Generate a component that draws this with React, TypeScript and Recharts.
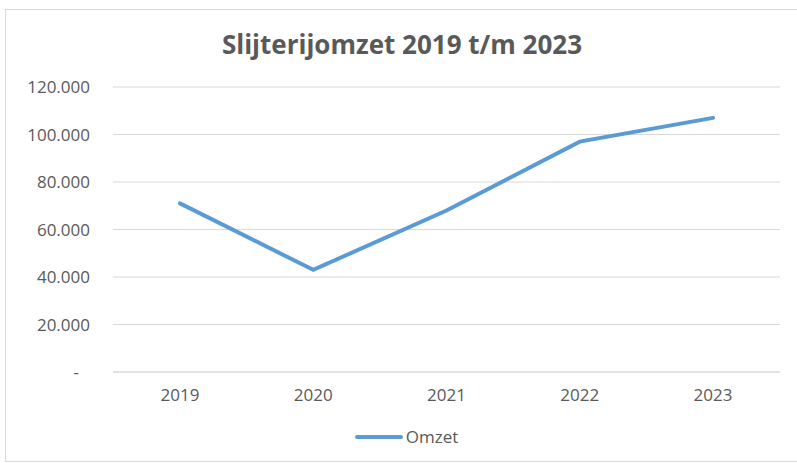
import { LineChart, Line, XAxis, YAxis, CartesianGrid } from "recharts";

const years = ["2019", "2020", "2021", "2022", "2023"];
const omzet = [71000, 43000, 68000, 97000, 107000];
const yTicks = [0, 20000, 40000, 60000, 80000, 100000, 120000];

const data = years.map((year, i) => ({ year, omzet: omzet[i] }));

const textColor = "#595959";
const lineColor = "#5B9BD5";
const font = "'Open Sans', sans-serif";

const formatThousands = (v: number) =>
  v.toString().replace(/\B(?=(\d{3})+(?!\d))/g, ".");

const YTick = (props: any) => {
  const { x, y, payload } = props;
  const v = payload.value as number;
  return (
    <text
      x={v === 0 ? x - 11 : x}
      y={y}
      dy={6}
      textAnchor="end"
      fill={textColor}
      fontSize={17}
      fontFamily={font}
    >
      {v === 0 ? "-" : formatThousands(v)}
    </text>
  );
};

export default function App() {
  return (
    <div
      style={{
        position: "absolute",
        left: 0,
        top: 0,
        width: 797,
        height: 463,
        background: "#fff",
        overflow: "hidden",
      }}
    >
      <div
        style={{
          position: "absolute",
          left: 5,
          top: 9,
          width: 800,
          height: 451,
          border: "1px solid #d9d9d9",
        }}
      />
      <div
        style={{
          position: "absolute",
          left: 0,
          top: 26,
          width: 804,
          textAlign: "center",
          fontFamily: font,
          fontWeight: 700,
          fontSize: 26,
          color: textColor,
        }}
      >
        Slijterijomzet 2019 t/m 2023
      </div>
      <div style={{ position: "absolute", left: 0, top: 0 }}>
        <LineChart
          width={797}
          height={463}
          data={data}
          margin={{ top: 87, right: 17, bottom: 61, left: 0 }}
        >
          <CartesianGrid vertical={false} stroke="#d9d9d9" />
          <XAxis
            dataKey="year"
            height={30}
            padding={{ left: 67, right: 67 }}
            axisLine={{ stroke: "#d9d9d9" }}
            tickLine={false}
            tickMargin={11}
            tick={{ fill: textColor, fontSize: 17, fontFamily: font }}
          />
          <YAxis
            width={113}
            domain={[0, 120000]}
            ticks={yTicks}
            axisLine={false}
            tickLine={false}
            tickSize={0}
            tickMargin={23}
            tick={<YTick />}
          />
          <Line
            type="linear"
            dataKey="omzet"
            stroke={lineColor}
            strokeWidth={4}
            strokeLinecap="round"
            dot={false}
            isAnimationActive={false}
          />
        </LineChart>
      </div>
      <div
        style={{
          position: "absolute",
          left: 0,
          top: 425,
          width: 812,
          display: "flex",
          justifyContent: "center",
          alignItems: "center",
          fontFamily: font,
          fontSize: 17,
          color: textColor,
        }}
      >
        <svg width={50} height={10} style={{ marginRight: 2 }}>
          <line x1={3} y1={5} x2={47} y2={5} stroke={lineColor} strokeWidth={4} strokeLinecap="round" />
        </svg>
        <span>Omzet</span>
      </div>
    </div>
  );
}
